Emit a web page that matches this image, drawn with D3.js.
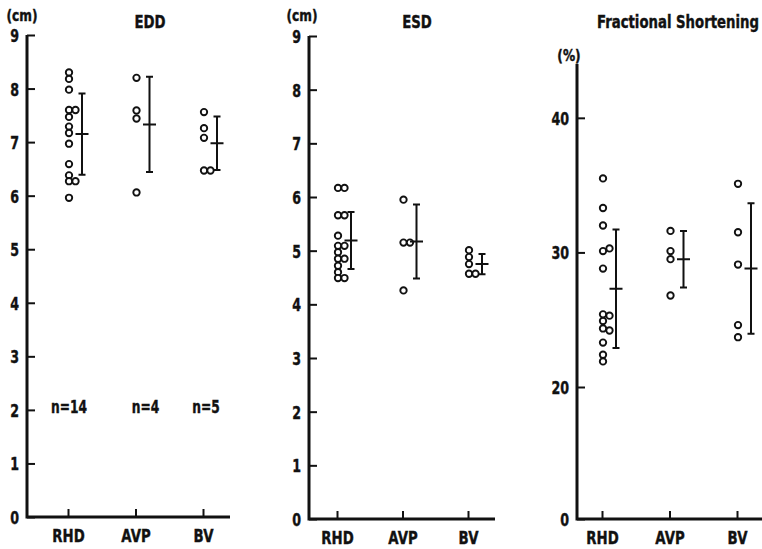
<!DOCTYPE html>
<html>
<head>
<meta charset="utf-8">
<script src="https://cdn.jsdelivr.net/npm/d3@7"></script>
<style>
  body { margin: 0; background: #fff; }
  svg text { font-family: "Liberation Sans Narrow", "DejaVu Sans Condensed", "Arial Narrow", sans-serif; font-weight: bold; fill: #111; stroke: #111; stroke-width: 0.4; }
</style>
</head>
<body>
<svg id="chart"></svg>
<script>
'use strict';

var width = 762, height = 549;

// groups
var categories = ['RHD', 'AVP', 'BV'];
var groupSizes = ['n=14', 'n=4', 'n=5'];

// EDD (cm)
var eddRHD = [8.3, 8.18, 7.98, 7.6, 7.6, 7.47, 7.29, 7.17, 6.97, 6.59, 6.38, 6.27, 6.27, 5.96];
var eddAVP = [8.2, 7.59, 7.44, 6.06];
var eddBV = [7.56, 7.26, 7.08, 6.47, 6.47];
var eddMean = [7.15, 7.33, 6.98];
var eddSD = [0.76, 0.89, 0.5];

// ESD (cm)
var esdRHD = [6.17, 6.17, 5.66, 5.66, 5.28, 5.09, 5.09, 4.97, 4.85, 4.85, 4.72, 4.6, 4.49, 4.49];
var esdAVP = [5.95, 5.15, 5.15, 4.26];
var esdBV = [5.01, 4.88, 4.75, 4.57, 4.57];
var esdMean = [5.19, 5.17, 4.75];
var esdSD = [0.53, 0.69, 0.19];

// Fractional shortening (%)
var fsRHD = [35.5, 33.3, 32.0, 30.1, 30.3, 28.8, 25.4, 25.3, 24.9, 24.35, 24.2, 23.3, 22.4, 21.9];
var fsAVP = [31.6, 30.1, 29.5, 26.8];
var fsBV = [35.1, 31.5, 29.1, 24.6, 23.7];
var fsMean = [27.3, 29.5, 28.8];
var fsSD = [4.4, 2.1, 4.85];

var cmTicks = [0, 1, 2, 3, 4, 5, 6, 7, 8, 9];
var fsTicks = [0, 20, 30, 40];

var svg = d3.select('#chart').attr('width', width).attr('height', height);

// squeeze text horizontally to mimic the condensed typeface
function narrow(sel, k) {
    sel.each(function () {
        var w = this.getComputedTextLength();
        d3.select(this).attr('textLength', w * k).attr('lengthAdjust', 'spacingAndGlyphs');
    });
}

var panels = [
    { title: 'EDD', unit: '(cm)', values: [eddRHD, eddAVP, eddBV], mean: eddMean, sd: eddSD,
      ticks: cmTicks, domain: [0, 9], range: [517, 35], axisX: 27, xEnd: 230, cats: [68, 203],
      titleX: 150, unitX: 22, unitY: 21, showN: true },
    { title: 'ESD', unit: '(cm)', values: [esdRHD, esdAVP, esdBV], mean: esdMean, sd: esdSD,
      ticks: cmTicks, domain: [0, 9], range: [519, 36], axisX: 309, xEnd: 495, cats: [337, 468],
      titleX: 417, unitX: 302, unitY: 21 },
    { title: 'Fractional Shortening', unit: '(%)', values: [fsRHD, fsAVP, fsBV], mean: fsMean, sd: fsSD,
      ticks: fsTicks, domain: [0, 20, 44], range: [519, 387, 64], axisX: 577, xEnd: 762, cats: [602, 737],
      titleX: 678, unitX: 569, unitY: 61 }
];

panels.forEach(function (p) {
    var g = svg.append('g');
    var y = d3.scaleLinear().domain(p.domain).range(p.range);
    var x = d3.scalePoint().domain(categories).range(p.cats);
    var y0 = y(0);

    // y axis, ticks pointing inward
    var yAxis = g.append('g').attr('transform', 'translate(' + p.axisX + ',0)')
        .call(d3.axisLeft(y).tickValues(p.ticks).tickSizeInner(-8).tickSizeOuter(0).tickPadding(8));
    yAxis.select('.domain').remove();
    yAxis.selectAll('.tick line').attr('stroke', '#111').attr('stroke-width', 2);
    yAxis.selectAll('.tick text').attr('font-size', 18).attr('fill', '#111')
        .attr('font-family', null).attr('dy', '0.36em').call(narrow, 0.78);

    // x axis, ticks pointing up
    var xAxis = g.append('g').attr('transform', 'translate(0,' + y0 + ')')
        .call(d3.axisBottom(x).tickSizeInner(-8).tickSizeOuter(0).tickPadding(9));
    xAxis.select('.domain').remove();
    xAxis.selectAll('.tick line').attr('stroke', '#111').attr('stroke-width', 2);
    xAxis.selectAll('.tick text').attr('font-size', 18).attr('fill', '#111')
        .attr('font-family', null).attr('dy', '0.9em').call(narrow, 0.82);

    // axis lines
    g.append('path')
        .attr('d', 'M' + p.axisX + ',' + y.range()[y.range().length - 1] + 'V' + y0 + 'H' + p.xEnd)
        .attr('fill', 'none').attr('stroke', '#111').attr('stroke-width', 3);

    // title, horizontally condensed with a transform
    g.append('text').attr('transform', 'translate(' + p.titleX + ',28) scale(0.82,1)')
        .attr('text-anchor', 'middle').attr('font-size', 18).text(p.title);
    g.append('text').attr('x', p.unitX).attr('y', p.unitY).attr('text-anchor', 'middle')
        .attr('font-size', 15).text(p.unit).call(narrow, 0.9);

    // points, second column when overlapping
    p.values.forEach(function (vals, i) {
        var placed = [];
        var cx = x(categories[i]) + 1;
        vals.forEach(function (v) {
            var py = y(v);
            var clash = placed.some(function (q) { return q.col === 0 && Math.abs(q.y - py) < 4.5; });
            var col = clash ? 1 : 0;
            placed.push({ y: py, col: col });
            g.append('circle').attr('cx', cx + col * 6.5).attr('cy', py).attr('r', 3.2)
                .attr('fill', '#fff').attr('stroke', '#111').attr('stroke-width', 1.9);
        });

        // mean +- SD
        var bx = x(categories[i]) + 14;
        var top = y(p.mean[i] + p.sd[i]), bot = y(p.mean[i] - p.sd[i]), my = y(p.mean[i]);
        g.append('path')
            .attr('d', 'M' + bx + ',' + top + 'V' + bot +
                'M' + (bx - 3.5) + ',' + top + 'H' + (bx + 3.5) +
                'M' + (bx - 3.5) + ',' + bot + 'H' + (bx + 3.5) +
                'M' + (bx - 6.5) + ',' + my + 'H' + (bx + 6.5))
            .attr('fill', 'none').attr('stroke', '#111').attr('stroke-width', 2);

        if (p.showN) {
            g.append('text').attr('x', x(categories[i]) + [1, 10, 3][i]).attr('y', 413)
                .attr('text-anchor', 'middle').attr('font-size', 17).text(groupSizes[i]).call(narrow, 0.8);
        }
    });
});
</script>
</body>
</html>
